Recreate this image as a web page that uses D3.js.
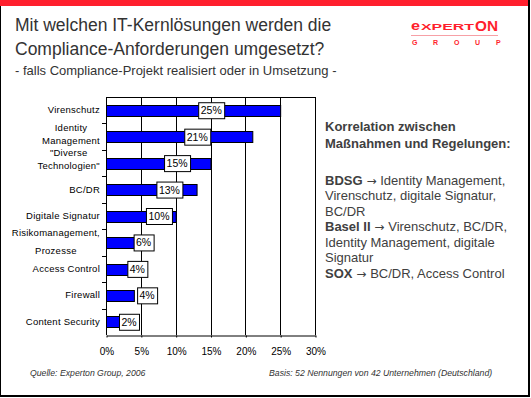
<!DOCTYPE html>
<html>
<head>
<meta charset="utf-8">
<script src="https://cdn.jsdelivr.net/npm/d3@7"></script>
<style>
    html, body { margin: 0; padding: 0; background: #fff; }
    svg { display: block; font-family: "Liberation Sans", Arial, sans-serif; }
</style>
</head>
<body>
<div class="chart-container"></div>
<script>
// values
const categories = [
    ['Virenschutz'],
    ['Identity', 'Management'],
    ['"Diverse', 'Technologien"'],
    ['BC/DR'],
    ['Digitale Signatur'],
    ['Risikomanagement,', 'Prozesse'],
    ['Access Control'],
    ['Firewall'],
    ['Content Security'],
];
const shares = [25, 21, 15, 13, 10, 6, 4, 4, 2];
// the data labels were dragged by hand in the original, centre given in % units
const labelAt = [15.1, 13.1, 10.2, 9.1, 7.6, 5.4, 4.5, 5.9, 3.3];
const xTicks = [0, 5, 10, 15, 20, 25, 30];

const titleLines = ['Mit welchen IT-Kernlösungen werden die', 'Compliance-Anforderungen umgesetzt?'];
const subtitle = '- falls Compliance-Projekt realisiert oder in Umsetzung -';
const noteHead = ['Korrelation zwischen', 'Maßnahmen und Regelungen:'];
const noteLines = [
    ['BDSG', 'Identity Management,'],
    ['', 'Virenschutz, digitale Signatur,'],
    ['', 'BC/DR'],
    ['Basel II', 'Virenschutz, BC/DR,'],
    ['', 'Identity Management, digitale'],
    ['', 'Signatur'],
    ['SOX', 'BC/DR, Access Control'],
];
const source = 'Quelle: Experton Group, 2006';
const basis = 'Basis: 52 Nennungen von 42 Unternehmen (Deutschland)';

const WIDTH = 531;
const HEIGHT = 398;
const RED = '#ff1f2d';
// the wrapped axis labels are not evenly placed on the slide
const nameLayout = {
    1: { dy: -2, lh: 13 },
    2: { dy: -3.5, lh: 13 },
    5: { dy: 0, lh: 18 },
};

const svg = d3.select('.chart-container').append('svg')
    .attr('width', WIDTH)
    .attr('height', HEIGHT);

drawFrame();
drawHeader();
drawChart();
drawNotes();
drawFooter();

function drawFrame() {
    svg.append('rect')
        .attr('x', 0)
        .attr('y', 0)
        .attr('width', 529)
        .attr('height', 396)
        .attr('fill', '#fff')
        .attr('stroke', '#000')
        .attr('stroke-width', 2);
    svg.append('rect')
        .attr('x', 0)
        .attr('y', 0)
        .attr('width', 528)
        .attr('height', 6)
        .attr('fill', RED);
}

function drawHeader() {
    svg.append('g').selectAll('text')
        .data(titleLines)
        .enter()
        .append('text')
        .attr('x', 15)
        .attr('y', (d, i) => 31 + i * 24)
        .attr('font-size', 17.5)
        .attr('fill', '#333')
        .text((d) => d);

    svg.append('text')
        .attr('x', 15)
        .attr('y', 75)
        .attr('font-size', 13)
        .attr('fill', '#333')
        .text(subtitle);

    // logo, stretched to the width of the original wordmark
    const logo = svg.append('g')
        .attr('transform', 'translate(411,0)')
        .attr('fill', RED)
        .attr('font-weight', 'bold');
    logo.append('text')
        .attr('x', 0)
        .attr('y', 30)
        .attr('font-size', 12.5)
        .attr('textLength', 9)
        .attr('lengthAdjust', 'spacingAndGlyphs')
        .text('e');
    logo.append('text')
        .attr('x', 10)
        .attr('y', 30)
        .attr('font-size', 9)
        .attr('textLength', 53)
        .attr('lengthAdjust', 'spacingAndGlyphs')
        .text('XPERT');
    logo.append('text')
        .attr('x', 64)
        .attr('y', 30.5)
        .attr('font-size', 15)
        .attr('textLength', 23)
        .attr('lengthAdjust', 'spacingAndGlyphs')
        .text('ON');
    logo.append('line')
        .attr('x1', 0)
        .attr('x2', 87)
        .attr('y1', 35.5)
        .attr('y2', 35.5)
        .attr('stroke', '#f7a0a6')
        .attr('stroke-width', 1);
    logo.append('g').selectAll('text')
        .data(['G', 'R', 'O', 'U', 'P'])
        .enter()
        .append('text')
        .attr('x', (d, i) => 1 + i * 21)
        .attr('y', 45)
        .attr('font-size', 7)
        .text((d) => d);
}

function drawChart() {
    const x = d3.scaleLinear().domain([0, 30]).range([106, 315]);
    const y = d3.scaleBand()
        .domain(d3.range(categories.length))
        .range([97, 335])
        .paddingInner(0.6)
        .paddingOuter(0.3);
    const top = 97;
    const bottom = 335;
    const chart = svg.append('g').attr('class', 'chart');

    // frame and vertical grid
    chart.append('line')
        .attr('x1', x(0)).attr('x2', x(30))
        .attr('y1', top + 0.5).attr('y2', top + 0.5)
        .attr('stroke', '#000');
    chart.append('g').selectAll('line')
        .data(xTicks)
        .enter()
        .append('line')
        .attr('x1', (d) => Math.round(x(d)) + 0.5)
        .attr('x2', (d) => Math.round(x(d)) + 0.5)
        .attr('y1', top)
        .attr('y2', bottom)
        .attr('stroke', '#000');

    // category ticks sit between the bars
    chart.append('g').selectAll('line')
        .data(d3.range(1, categories.length))
        .enter()
        .append('line')
        .attr('x1', x(0) - 4)
        .attr('x2', x(0))
        .attr('y1', (d) => Math.round(top + d * y.step()) + 0.5)
        .attr('y2', (d) => Math.round(top + d * y.step()) + 0.5)
        .attr('stroke', '#000');

    const xAxis = chart.append('g')
        .attr('transform', 'translate(0.5,' + (bottom + 0.5) + ')')
        .call(d3.axisBottom(x)
            .tickValues(xTicks)
            .tickFormat((d) => d + '%')
            .tickSize(2)
            .tickSizeOuter(0)
            .tickPadding(10));
    xAxis.select('.domain').attr('stroke', '#000');
    xAxis.selectAll('text')
        .attr('font-family', '"Liberation Sans", Arial, sans-serif')
        .attr('font-size', 10)
        .attr('fill', '#000');

    chart.append('g').selectAll('rect')
        .data(shares)
        .enter()
        .append('rect')
        .attr('x', x(0) + 0.5)
        .attr('y', (d, i) => Math.round(y(i)) + 0.5)
        .attr('width', (d) => x(d) - x(0))
        .attr('height', Math.round(y.bandwidth()))
        .attr('fill', '#0000ff')
        .attr('stroke', '#000');

    // category names, multi-line ones centred as a block
    const names = chart.append('g').selectAll('g')
        .data(categories)
        .enter()
        .append('g')
        .attr('transform', (d, i) => {
            const lay = nameLayout[i] || { dy: 0 };
            return 'translate(0,' + (y(i) + y.bandwidth() / 2 + lay.dy) + ')';
        });
    names.each(function (lines, k) {
        const g = d3.select(this);
        const lh = (nameLayout[k] || { lh: 13 }).lh;
        const texts = g.selectAll('text')
            .data(lines)
            .enter()
            .append('text')
            .attr('font-size', 9.5)
            .attr('letter-spacing', 0.25)
            .attr('fill', '#000')
            .attr('y', (d, i) => (i - (lines.length - 1) / 2) * lh + 3)
            .text((d) => d);
        const widths = [];
        texts.each(function () { widths.push(this.getComputedTextLength()); });
        const maxW = d3.max(widths);
        const right = 100;
        texts.attr('x', (d, i) => right - maxW + (maxW - widths[i]) / 2);
    });

    // value boxes
    const labels = chart.append('g').selectAll('g')
        .data(shares)
        .enter()
        .append('g')
        .attr('transform', (d, i) => 'translate(' + x(labelAt[i]) + ',' + (y(i) + y.bandwidth() / 2) + ')');
    labels.append('rect').attr('class', 'box');
    labels.append('text')
        .attr('text-anchor', 'middle')
        .attr('y', 4)
        .attr('font-size', 10.5)
        .attr('fill', '#000')
        .text((d) => d + '%');
    labels.each(function () {
        const g = d3.select(this);
        const w = g.select('text').node().getComputedTextLength() + 5;
        g.select('.box')
            .attr('x', Math.round(-w / 2) + 0.5)
            .attr('y', -7.5)
            .attr('width', Math.round(w))
            .attr('height', 16)
            .attr('fill', '#fff')
            .attr('stroke', '#000');
    });
}

function drawNotes() {
    const notes = svg.append('g')
        .attr('transform', 'translate(325,0)')
        .attr('fill', '#404040')
        .attr('font-size', 13);
    notes.selectAll('.head')
        .data(noteHead)
        .enter()
        .append('text')
        .attr('class', 'head')
        .attr('y', (d, i) => 131 + i * 16.5)
        .attr('font-weight', 'bold')
        .text((d) => d);
    const rows = notes.selectAll('.row')
        .data(noteLines)
        .enter()
        .append('text')
        .attr('class', 'row')
        .attr('y', (d, i) => 184.5 + i * 15.5);
    rows.append('tspan')
        .attr('font-weight', 'bold')
        .text((d) => d[0]);
    // arrow glyph from DejaVu, Liberation's is tiny
    rows.filter((d) => d[0])
        .append('tspan')
        .attr('font-family', '"DejaVu Sans", sans-serif')
        .attr('font-size', 12)
        .text(' \u2192 ');
    rows.append('tspan')
        .text((d) => d[1]);
}

function drawFooter() {
    svg.append('text')
        .attr('x', 30)
        .attr('y', 376)
        .attr('font-size', 8.7)
        .attr('font-style', 'italic')
        .attr('fill', '#333')
        .text(source);
    svg.append('text')
        .attr('x', 269)
        .attr('y', 376)
        .attr('font-size', 8.7)
        .attr('font-style', 'italic')
        .attr('fill', '#333')
        .text(basis);
}
</script>
</body>
</html>
